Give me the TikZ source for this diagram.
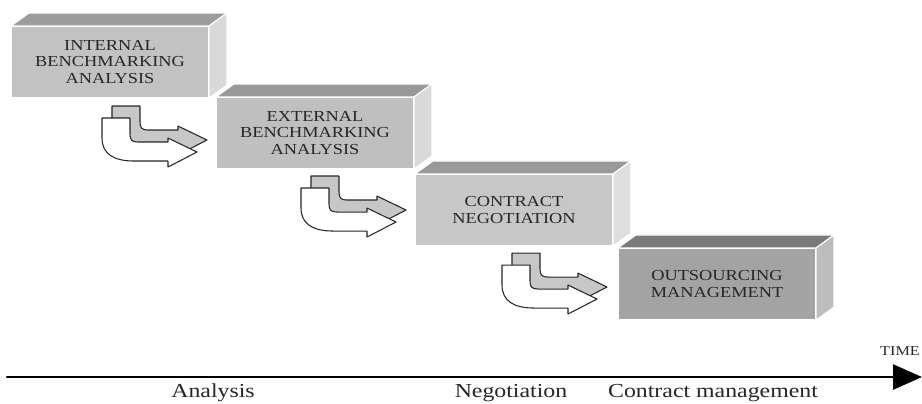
\documentclass[tikz,border=0pt]{standalone}
\usepackage{fontspec}
\setmainfont{Liberation Serif}[FakeStretch=1.2]
\usetikzlibrary{arrows.meta}

% the two faces seen above and beside a stage box
\newcommand{\stagefaces}[3]{%
  \filldraw[fill=#2,draw=white,line width=0.6pt] (#1.north west) -- ++(18,-13)
    -- ([shift={(18,-13)}]#1.north east) -- (#1.north east) -- cycle;
  \filldraw[fill=#3,draw=white,line width=0.6pt] (#1.north east) -- ++(18,-13)
    -- ([shift={(18,-13)}]#1.south east) -- (#1.south east) -- cycle;
}

\begin{document}
\begin{tikzpicture}[line cap=round,line join=round,x=0.02cm,y=-0.02cm,
    stage/.style={rectangle,draw=white,line width=0.6pt,inner sep=0pt,
      minimum width=3.94cm,minimum height=1.42cm,align=center,
      font=\fontsize{8.7}{9.4}\selectfont,text=black!85},
    bentline/.style={draw=black!85,line width=0.6pt},
    phase/.style={font=\fontsize{11.3}{12}\selectfont,text=black!85},
    pics/bentarrow/.style={code={
      \filldraw[bentline,fill=black!22] (0,0) -- (28,0) -- (28,16)
        .. controls (28,22) and (30,24) .. (36,24) -- (66,24) -- (66,20) -- (95,34)
        -- (66,49) -- (66,43) -- (32,43) .. controls (12,43) and (0,36) .. (0,20) -- cycle;
      \filldraw[bentline,fill=white,shift={(-10,12)}] (0,0) -- (28,0) -- (28,16)
        .. controls (28,22) and (30,24) .. (36,24) -- (66,24) -- (66,20) -- (95,34)
        -- (66,49) -- (66,43) -- (32,43) .. controls (12,43) and (0,36) .. (0,20) -- cycle;
    }}]
    \useasboundingbox (0,0) rectangle (922,403);

    % stages
    \node[stage,fill=black!24] (internal) at (110,62) {INTERNAL\\BENCHMARKING\\ANALYSIS};
    \stagefaces{internal}{black!39}{black!15}
    \pic at ([shift={(101,8)}]internal.south west) {bentarrow};

    \node[stage,fill=black!25] (external) at (315,133) {EXTERNAL\\BENCHMARKING\\ANALYSIS};
    \stagefaces{external}{black!40}{black!15}
    \pic at ([shift={(95,7)}]external.south west) {bentarrow};

    \node[stage,fill=black!22] (contract) at (514,210) {CONTRACT\\NEGOTIATION};
    \stagefaces{contract}{black!40}{black!13}
    \pic at ([shift={(97,7)}]contract.south west) {bentarrow};

    \node[stage,fill=black!36] (outsourcing) at (717,284) {OUTSOURCING\\MANAGEMENT};
    \stagefaces{outsourcing}{black!52}{black!26}

    % time axis
    \coordinate (t0) at (7,377);
    \coordinate (t1) at (922,377);
    \draw[line width=1.5pt,-{Triangle[length=0.58cm,width=0.5cm]}] (t0) -- (t1);
    \node[font=\fontsize{7.7}{8}\selectfont,text=black!85] (time) at (900,351) {TIME};
    \node[phase] (analysis) at (213,393) {Analysis};
    \node[phase] (negotiation) at (511,393) {Negotiation};
    \node[phase] (management) at (713,393) {Contract management};
\end{tikzpicture}
\end{document}
